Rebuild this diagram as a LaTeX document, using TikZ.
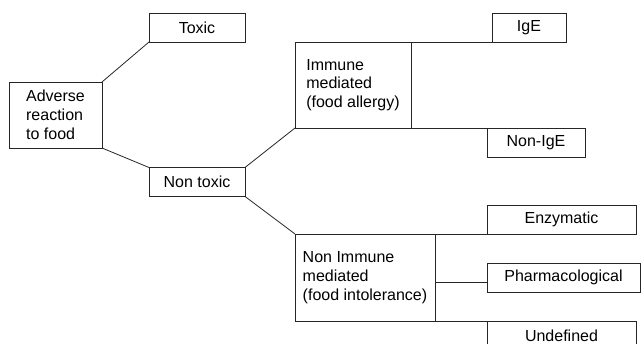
\documentclass[tikz,border=0pt]{standalone}
\usepackage{fontspec}
\setmainfont{Liberation Sans}
\usepackage{tikz}
\tikzset{box/.style={draw=black!85, line width=0.8pt, inner sep=0pt, outer sep=0pt, align=left, font=\fontsize{16}{18.8}\selectfont}}
\tikzset{link/.style={draw=black!85, line width=0.8pt}}

\begin{document}
\begin{tikzpicture}[x=1pt, y=-1pt]
			%%%%% START %%%%%
			\useasboundingbox (0, 0) rectangle (641, 344);
			
			\node[box, minimum width=93pt, minimum height=66pt] (adv) at (55.5, 115) {Adverse\\reaction\\to food};
			\node[box, minimum width=96pt, minimum height=29pt] (tox) at (197, 27.5) {Toxic};
			\node[box, minimum width=96pt, minimum height=29pt] (non) at (197, 182) {Non toxic};
			
			\node[box, minimum width=116pt, minimum height=86pt] (imm) at (353, 85) {Immune\\mediated\\(food allergy)};
			\node[box, minimum width=140pt, minimum height=87pt] (nim) at (365, 277.5) {Non Immune\\mediated\\(food intolerance)};
			
			\node[box, minimum width=74pt, minimum height=29pt] (ige) at (529, 27.5) {IgE};
			\node[box, minimum width=98pt, minimum height=29pt] (nig) at (536, 142.5) {Non-IgE};
			
			\node[box, minimum width=149pt, minimum height=29pt] (enz) at (561.5, 219.5) {Enzymatic};
			\node[box, minimum width=153pt, minimum height=29pt] (pha) at (563.5, 277.5) {Pharmacological};
			\node[box, minimum width=149pt, minimum height=29pt] (und) at (561.5, 335.5) {Undefined};
			
			\draw[link] (adv.north east) -- (tox.south west);
			\draw[link] (adv.south east) -- (non.north west);
			\draw[link] (non.north east) -- (imm.south west);
			\draw[link] (non.south east) -- (nim.north west);
			
			\draw[link] (imm.north east) -- (ige.south west);
			\draw[link] (imm.south east) -- (nig.north west);
			
			\draw[link] (nim.north east) -- (enz.south west);
			\draw[link] ([yshift=-5pt]nim.east) -- ([yshift=-5pt]pha.west);
			\draw[link] (nim.south east) -- (und.north west);
			%%%%% END %%%%%
\end{tikzpicture}
\end{document}
